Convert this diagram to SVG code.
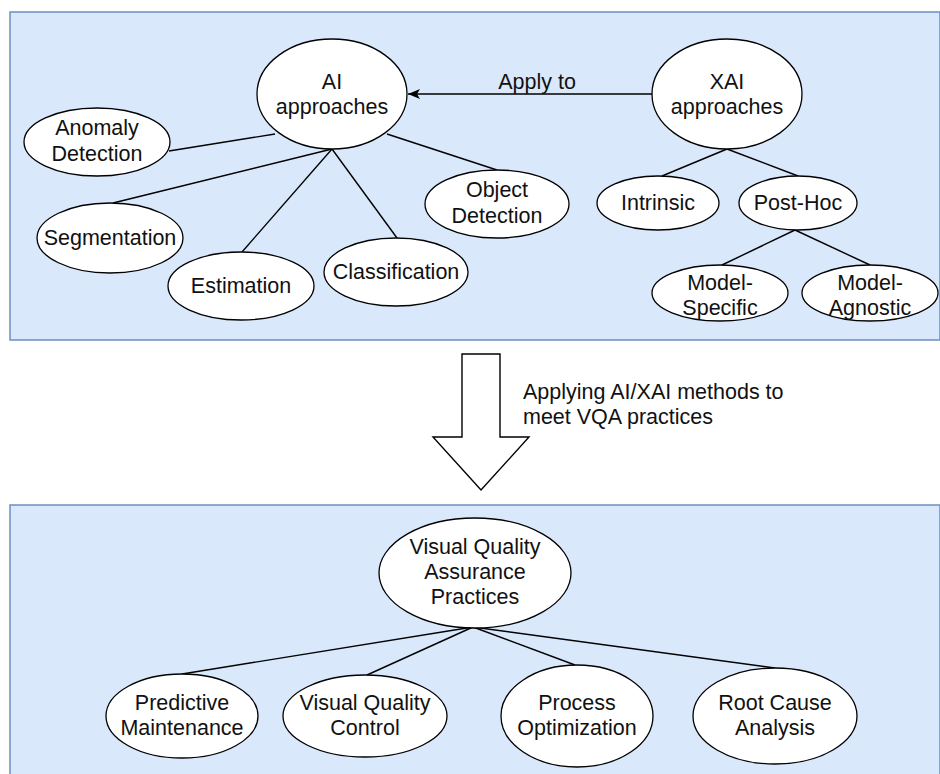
<svg xmlns="http://www.w3.org/2000/svg" width="940" height="774" viewBox="0 0 940 774">
<defs>
<style>
.panel{fill:#dae8fc;stroke:#6c8ebf;stroke-width:1.5}
.node ellipse{fill:#ffffff;stroke:#000;stroke-width:1.3}
text{font-family:"Liberation Sans",Arial,Helvetica,sans-serif;font-size:21.5px;fill:#111;text-anchor:middle}
.edge{stroke:#000;stroke-width:1.4;fill:none}
.lbl{text-anchor:start}
</style>
<marker id="arr" markerUnits="userSpaceOnUse" markerWidth="14" markerHeight="12" refX="12" refY="5" orient="auto">
<path d="M0,0 L12,5 L0,10 L3,5 z" fill="#000"/>
</marker>
</defs>
<rect width="940" height="774" fill="#ffffff"/>
<rect class="panel" x="10" y="12" width="930" height="328"/>
<rect class="panel" x="10" y="505" width="930" height="272"/>

<g id="connectors">
<line class="edge" x1="275" y1="134" x2="169" y2="151"/>
<line class="edge" x1="332" y1="149" x2="113" y2="203"/>
<line class="edge" x1="332" y1="149" x2="242" y2="252"/>
<line class="edge" x1="332" y1="149" x2="397" y2="238"/>
<line class="edge" x1="387" y1="134" x2="497" y2="170"/>
<line class="edge" x1="652" y1="94" x2="408" y2="94" marker-end="url(#arr)"/>
<text x="537" y="89">Apply to</text>
<line class="edge" x1="727" y1="149" x2="662" y2="176"/>
<line class="edge" x1="727" y1="149" x2="798" y2="176"/>
<line class="edge" x1="795" y1="230" x2="722" y2="265"/>
<line class="edge" x1="795" y1="230" x2="870" y2="265"/>
<line class="edge" x1="473" y1="627" x2="182" y2="674"/>
<line class="edge" x1="473" y1="627" x2="367" y2="675"/>
<line class="edge" x1="473" y1="627" x2="575" y2="665"/>
<line class="edge" x1="473" y1="627" x2="775" y2="668"/>
</g>

<g id="big-arrow">
<path d="M462,354 L500,354 L500,437 L529,437 L481,490 L433,437 L462,437 Z" fill="#ffffff" stroke="#000" stroke-width="1.4"/>
<text class="lbl" x="523" y="399">Applying AI/XAI methods to</text>
<text class="lbl" x="523" y="424">meet VQA practices</text>
</g>

<g id="ai" class="node"><ellipse cx="332" cy="94" rx="75" ry="55"/><text x="332" y="89">AI</text><text x="332" y="114">approaches</text></g>
<g id="xai" class="node"><ellipse cx="727" cy="94" rx="75" ry="55"/><text x="727" y="89">XAI</text><text x="727" y="114">approaches</text></g>
<g id="anomaly" class="node"><ellipse cx="97" cy="142" rx="73" ry="34"/><text x="97" y="135">Anomaly</text><text x="97" y="161">Detection</text></g>
<g id="segmentation" class="node"><ellipse cx="110" cy="238" rx="73" ry="35"/><text x="110" y="245">Segmentation</text></g>
<g id="estimation" class="node"><ellipse cx="241" cy="286" rx="73" ry="34"/><text x="241" y="293">Estimation</text></g>
<g id="classification" class="node"><ellipse cx="396" cy="272" rx="72" ry="34"/><text x="396" y="279">Classification</text></g>
<g id="object" class="node"><ellipse cx="497" cy="204" rx="72" ry="34"/><text x="497" y="197">Object</text><text x="497" y="223">Detection</text></g>
<g id="intrinsic" class="node"><ellipse cx="658" cy="203" rx="61" ry="27"/><text x="658" y="210">Intrinsic</text></g>
<g id="posthoc" class="node"><ellipse cx="798" cy="203" rx="59" ry="27"/><text x="798" y="210">Post-Hoc</text></g>
<g id="model-specific" class="node"><ellipse cx="720" cy="293" rx="68" ry="28"/><text x="720" y="290">Model-</text><text x="720" y="315">Specific</text></g>
<g id="model-agnostic" class="node"><ellipse cx="870" cy="293" rx="68" ry="28"/><text x="870" y="290">Model-</text><text x="870" y="315">Agnostic</text></g>

<g id="vqa" class="node"><ellipse cx="475" cy="573" rx="96" ry="55"/><text x="475" y="554">Visual Quality</text><text x="475" y="579">Assurance</text><text x="475" y="604">Practices</text></g>
<g id="predictive" class="node"><ellipse cx="182" cy="716" rx="76" ry="42"/><text x="182" y="710">Predictive</text><text x="182" y="735">Maintenance</text></g>
<g id="vqc" class="node"><ellipse cx="365" cy="716" rx="82" ry="41"/><text x="365" y="710">Visual Quality</text><text x="365" y="735">Control</text></g>
<g id="process" class="node"><ellipse cx="577" cy="716" rx="76" ry="51"/><text x="577" y="710">Process</text><text x="577" y="735">Optimization</text></g>
<g id="rootcause" class="node"><ellipse cx="775" cy="716" rx="82" ry="48"/><text x="775" y="710">Root Cause</text><text x="775" y="735">Analysis</text></g>
</svg>
